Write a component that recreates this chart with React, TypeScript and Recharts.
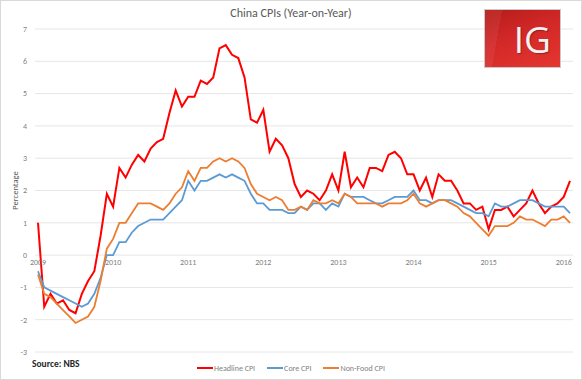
import { CartesianGrid, Line, LineChart, ReferenceDot, YAxis, XAxis } from 'recharts';

const YEARS = ['2009', '2010', '2011', '2012', '2013', '2014', '2015', '2016'];
const MONTH_NUMS = ['01', '02', '03', '04', '05', '06', '07', '08', '09', '10', '11', '12'];

// Jan 2009 .. Feb 2016
const MONTHS: string[] = YEARS.flatMap((y) => MONTH_NUMS.map((m) => `${y}-${m}`)).slice(0, 86);

const HEADLINE_CPI = [
  1.0, -1.6, -1.2, -1.5, -1.4, -1.7, -1.8, -1.2, -0.8, -0.5, 0.6, 1.9,
  1.5, 2.7, 2.4, 2.8, 3.1, 2.9, 3.3, 3.5, 3.6, 4.4, 5.1, 4.6,
  4.9, 4.9, 5.4, 5.3, 5.5, 6.4, 6.5, 6.2, 6.1, 5.5, 4.2, 4.1,
  4.5, 3.2, 3.6, 3.4, 3.0, 2.2, 1.8, 2.0, 1.9, 1.7, 2.0, 2.5,
  2.0, 3.2, 2.1, 2.4, 2.1, 2.7, 2.7, 2.6, 3.1, 3.2, 3.0, 2.5,
  2.5, 2.0, 2.4, 1.8, 2.5, 2.3, 2.3, 2.0, 1.6, 1.6, 1.4, 1.5,
  0.8, 1.4, 1.4, 1.5, 1.2, 1.4, 1.6, 2.0, 1.6, 1.3, 1.5, 1.6,
  1.8, 2.3,
];

const CORE_CPI = [
  -0.5, -1.0, -1.1, -1.2, -1.3, -1.4, -1.5, -1.6, -1.5, -1.2, -0.7, 0.0,
  0.0, 0.4, 0.4, 0.7, 0.9, 1.0, 1.1, 1.1, 1.1, 1.3, 1.5, 1.7,
  2.3, 2.0, 2.3, 2.3, 2.4, 2.5, 2.4, 2.5, 2.4, 2.3, 1.9, 1.6,
  1.6, 1.4, 1.4, 1.4, 1.3, 1.3, 1.5, 1.4, 1.6, 1.6, 1.4, 1.6,
  1.5, 1.9, 1.8, 1.8, 1.8, 1.7, 1.6, 1.6, 1.7, 1.8, 1.8, 1.8,
  2.0, 1.7, 1.7, 1.6, 1.7, 1.7, 1.7, 1.6, 1.5, 1.4, 1.3, 1.3,
  1.2, 1.6, 1.5, 1.5, 1.6, 1.7, 1.7, 1.7, 1.6, 1.5, 1.5, 1.5,
  1.5, 1.3,
];

const NON_FOOD_CPI = [
  -0.6, -1.2, -1.3, -1.5, -1.7, -1.9, -2.1, -2.0, -1.9, -1.6, -0.8, 0.2,
  0.5, 1.0, 1.0, 1.3, 1.6, 1.6, 1.6, 1.5, 1.4, 1.6, 1.9, 2.1,
  2.6, 2.3, 2.7, 2.7, 2.9, 3.0, 2.9, 3.0, 2.9, 2.7, 2.2, 1.9,
  1.8, 1.7, 1.8, 1.7, 1.4, 1.4, 1.5, 1.4, 1.7, 1.6, 1.6, 1.7,
  1.6, 1.9, 1.8, 1.6, 1.6, 1.6, 1.6, 1.5, 1.6, 1.6, 1.6, 1.7,
  1.9, 1.6, 1.5, 1.6, 1.7, 1.7, 1.6, 1.5, 1.3, 1.2, 1.0, 0.8,
  0.6, 0.9, 0.9, 0.9, 1.0, 1.2, 1.1, 1.1, 1.0, 0.9, 1.1, 1.1,
  1.2, 1.0,
];

const Y_TICKS = [-3, -2, -1, 0, 1, 2, 3, 4, 5, 6, 7];

const SERIES = [
  { key: 'headline', name: 'Headline CPI', color: '#ff0000', width: 2 },
  { key: 'core', name: 'Core CPI', color: '#5b9bd5', width: 1.8 },
  { key: 'nonFood', name: 'Non-Food CPI', color: '#ed7d31', width: 1.8 },
];

const data = MONTHS.map((month, i) => ({
  month,
  headline: HEADLINE_CPI[i],
  core: CORE_CPI[i],
  nonFood: NON_FOOD_CPI[i],
}));

const FONT = "Carlito, 'Liberation Sans Narrow', Lato, sans-serif";
const GREY = '#7f7f7f';

export default function App() {
  return (
    <div
      style={{
        position: 'absolute',
        left: 0,
        top: 0,
        width: 582,
        height: 380,
        background: '#fff',
        fontFamily: FONT,
        overflow: 'hidden',
      }}
    >
      <LineChart
        width={582}
        height={380}
        data={data}
        margin={{ top: 29, right: 9, bottom: 28, left: 0 }}
      >
        <CartesianGrid vertical={false} stroke="#e6e6e6" strokeWidth={1} />
        <XAxis dataKey="month" hide padding={{ left: 3, right: 3 }} />
        <YAxis
          domain={[-3, 7]}
          ticks={Y_TICKS}
          width={35}
          tickLine={false}
          axisLine={false}
          interval={0}
          tick={{ fontSize: 8, fill: GREY, fontFamily: FONT }}
          label={{
            value: 'Percentage',
            angle: -90,
            position: 'center',
            dx: -3,
            style: { fontSize: 8.5, fill: '#595959', fontFamily: FONT },
          }}
        />
        {YEARS.map((y) => (
          <ReferenceDot
            key={y}
            x={`${y}-01`}
            y={0}
            r={0}
            fill="none"
            stroke="none"
            label={{
              value: y,
              position: 'bottom',
              offset: 4,
              style: { fontSize: 8, fill: GREY, fontFamily: FONT },
            }}
          />
        ))}
        {SERIES.map((s) => (
          <Line
            key={s.key}
            type="linear"
            dataKey={s.key}
            name={s.name}
            stroke={s.color}
            strokeWidth={s.width}
            dot={false}
            activeDot={false}
            isAnimationActive={false}
          />
        ))}
      </LineChart>

      <div
        style={{
          position: 'absolute',
          left: 0,
          top: 6,
          width: 582,
          textAlign: 'center',
          fontSize: 12,
          color: '#595959',
        }}
      >
        China CPIs (Year-on-Year)
      </div>

      {/* IG logo block */}
      <div
        style={{
          position: 'absolute',
          left: 484,
          top: 9,
          width: 77,
          height: 59,
          boxSizing: 'border-box',
          border: '1px solid #c9c9c9',
          background:
            'linear-gradient(100deg, rgba(255,255,255,0.06) 0 20%, rgba(255,255,255,0) 20% 100%), linear-gradient(160deg, #b51d1b 0%, #d32828 45%, #e5372f 100%)',
          color: '#f2f2f2',
          fontFamily: "'Open Sans', Lato, sans-serif",
          fontWeight: 400,
          fontSize: 37,
          lineHeight: '57px',
          textAlign: 'right',
          paddingRight: 9,
          textShadow: '1px 1px 1px rgba(0,0,0,0.3)',
        }}
      >
        IG
      </div>

      <div
        style={{
          position: 'absolute',
          left: 32,
          top: 358,
          fontSize: 9.5,
          fontWeight: 700,
          color: '#262626',
        }}
      >
        Source: NBS
      </div>

      <div
        style={{
          position: 'absolute',
          left: 0,
          top: 363,
          width: 582,
          display: 'flex',
          justifyContent: 'center',
          gap: 12,
          fontSize: 8,
          color: GREY,
        }}
      >
        {SERIES.map((s) => (
          <div key={s.key} style={{ display: 'flex', alignItems: 'center' }}>
            <span
              style={{
                display: 'inline-block',
                width: 16,
                height: 2,
                background: s.color,
                marginRight: 1,
              }}
            />
            <span>{s.name}</span>
          </div>
        ))}
      </div>

      <div
        style={{
          position: 'absolute',
          left: 0,
          top: 0,
          width: 582,
          height: 380,
          boxSizing: 'border-box',
          border: '1px solid #d9d9d9',
          pointerEvents: 'none',
        }}
      />
    </div>
  );
}
